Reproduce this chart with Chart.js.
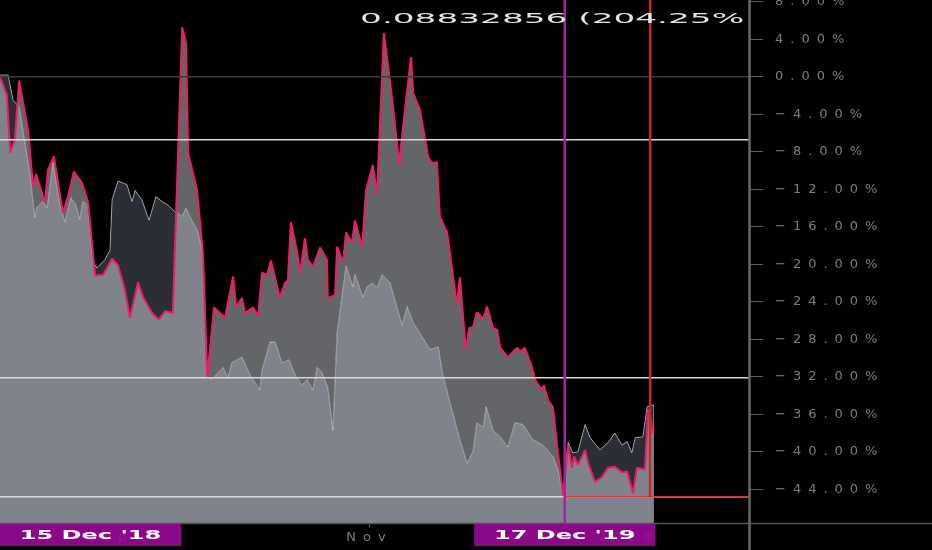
<!DOCTYPE html>
<html lang="en">
<head>
    <meta charset="UTF-8">
    <title>Drawdown comparison</title>
    <style>
        body {
            margin: 0;
            padding: 0;
            background-color: #000;
        }

        .chart-container {
            position: relative;
            width: 932px;
            height: 550px;
        }
    </style>
</head>
<body>
    <div class="chart-container">
        <canvas id="ddChart"></canvas>
    </div>

    <script src="https://cdn.jsdelivr.net/npm/chart.js"></script>
    <script>
        // x = days counted from 6 Aug 2019 (left edge of the window), y = % change
        const pinkDays = [
            0, 1.6, 2.4, 3.5, 4.5, 6.6, 7.8, 8.5, 10.6, 11.3,
            12.7, 14.8, 16.0, 17.4, 19.3, 20.7, 22.4, 24.3, 26.4, 27.8,
            29.4, 30.6, 32.5, 33.7, 35.8, 37.4, 38.9, 40.7, 42.9, 43.8,
            44.3, 46.4, 47.8, 48.8, 50.4, 53.0, 54.9, 55.6, 57.0, 57.7,
            59.6, 60.8, 61.7, 62.9, 63.8, 65.9, 67.1, 67.8, 68.5, 69.9,
            70.7, 71.8, 72.5, 73.7, 75.4, 77.0, 77.2, 78.9, 79.4, 80.8,
            81.5, 82.9, 83.6, 85.3, 86.2, 87.8, 88.8, 90.4, 92.3, 94.0,
            95.9, 96.8, 97.3, 98.9, 100.8, 101.7, 102.9, 103.6, 105.3, 107.6,
            108.3, 109.7, 110.5, 111.4, 112.3, 113.8, 114.7, 116.1, 117.1, 117.8,
            119.6, 121.8, 122.5, 123.6, 125.3, 126.0, 127.6, 128.1, 129.1, 130.2,
            131.4, 132.6, 133.8, 134.7, 135.2, 136.1, 137.8, 138.5, 140.1, 141.8,
            143.2, 144.8, 146.5, 147.7, 149.1, 150.0, 151.9, 152.6, 153.1, 153.8
        ];
        const pinkValues = [
            0, -1.9, -8.1, -6.7, -0.4, -5.7, -11.7, -10.4, -13.4, -9.9,
            -8.5, -14.5, -12.8, -10.1, -11.3, -13.3, -21.2, -21.1, -19.4, -20.1,
            -22.7, -25.7, -21.9, -23.5, -25.2, -25.9, -25.0, -25.2, 5.3, 3.6,
            -8.1, -12.1, -18.8, -32.0, -24.6, -25.7, -21.3, -24.5, -23.6, -25.2,
            -24.6, -25.5, -20.9, -21.1, -19.6, -23.5, -22.0, -21.7, -15.5, -18.5,
            -20.9, -17.2, -19.5, -20.3, -18.2, -19.5, -23.6, -23.3, -18.1, -19.8,
            -16.6, -17.7, -15.3, -18.2, -12.1, -9.4, -12.6, 4.7, -2.1, -9.2,
            -1.4, 2.1, -1.7, -3.5, -8.5, -9.2, -9.1, -14.9, -16.6, -24.3,
            -21.4, -29.1, -26.8, -26.7, -25.1, -25.8, -24.5, -26.8, -27.0, -28.9,
            -29.9, -28.9, -29.3, -28.9, -31.0, -32.3, -33.4, -32.9, -34.5, -35.2,
            -40.1, -44.6, -39.3, -41.7, -40.5, -41.4, -39.8, -41.2, -43.2, -42.7,
            -41.7, -41.6, -42.2, -42.1, -44.4, -41.7, -41.9, -35.5, -36.1, -38.0
        ];

        const whiteDays = [
            0, 1.9, 3.1, 4.5, 7.1, 8.2, 8.7, 10.1, 11.1, 12.5,
            14.1, 15.3, 16.7, 17.9, 18.8, 19.5, 20.7, 21.9, 22.8, 24.7,
            25.9, 26.4, 27.8, 29.9, 31.1, 31.8, 33.4, 35.1, 36.7, 38.2,
            39.6, 40.7, 42.9, 43.8, 44.7, 46.4, 47.8, 48.8, 49.9, 51.3,
            52.5, 53.7, 54.6, 57.0, 58.9, 61.2, 61.7, 63.6, 64.8, 66.4,
            68.1, 69.5, 71.1, 72.3, 73.7, 74.7, 75.8, 77.2, 78.4, 79.4,
            81.5, 83.1, 83.6, 85.5, 86.4, 87.8, 88.8, 90.0, 91.8, 94.7,
            95.9, 97.3, 98.4, 101.3, 103.2, 104.3, 106.0, 108.3, 110.0, 111.4,
            112.3, 113.8, 114.5, 116.1, 117.8, 119.6, 121.3, 123.2, 125.5, 127.9,
            130.2, 131.4, 132.6, 133.8, 134.9, 136.1, 137.8, 139.0, 141.3, 143.2,
            144.8, 146.5, 147.7, 148.8, 149.6, 151.4, 152.4, 154.0
        ];
        const whiteValues = [
            0.2, 0.2, -2.5, -3.2, -10.5, -15.0, -13.9, -13.3, -14.0, -9.2,
            -13.7, -15.5, -12.9, -13.7, -15.2, -13.3, -13.7, -19.7, -20.4, -19.5,
            -18.5, -13.1, -11.1, -11.5, -13.3, -12.1, -13.1, -15.3, -12.8, -13.3,
            -13.7, -14.2, -14.9, -14.0, -14.9, -16.3, -18.8, -32.0, -32.3, -31.6,
            -31.0, -32.1, -30.5, -29.9, -31.8, -33.4, -31.3, -28.3, -28.3, -30.5,
            -30.2, -31.8, -32.9, -32.3, -33.4, -31.0, -31.5, -33.1, -37.7, -27.3,
            -20.2, -22.4, -21.1, -23.5, -22.4, -22.0, -22.5, -21.1, -21.9, -26.5,
            -24.5, -26.2, -27.0, -29.1, -28.8, -31.8, -34.8, -38.7, -41.2, -40.0,
            -36.9, -37.4, -35.2, -37.7, -38.4, -39.5, -36.9, -37.1, -38.7, -39.3,
            -40.5, -41.9, -44.6, -39.0, -40.1, -40.0, -37.1, -38.5, -39.8, -39.0,
            -38.0, -39.3, -38.9, -40.1, -38.5, -38.4, -35.2, -35.0
        ];

        const yTicks = [8, 4, 0, -4, -8, -12, -16, -20, -24, -28, -32, -36, -40, -44];
        const xTickDays = [26, 87, 148];
        const xTickLabels = ['Sep', 'Nov', '2020'];

        // drawings on the chart
        const levelLines = [-6.7, -32.1, -44.8];
        const rangeStartDay = -234;   // 15 Dec '18, off to the left
        const rangeEndDay = 133;      // 17 Dec '19
        const rangeLabels = ["15 Dec '18", "17 Dec '19"];
        const cursorDay = 153.1;
        const cursorLevel = -44.8;
        const headerText = '0.08832856 (204.25%';
        const headerDay = 84.8;
        const headerValue = 6.1;

        function fmtPct(v) {
            return (v < 0 ? '\u2212' : '') + Math.abs(v).toFixed(2) + '%';
        }

        function hLine(ctx, x1, x2, y, color, w) {
            ctx.strokeStyle = color;
            ctx.lineWidth = w;
            ctx.beginPath();
            ctx.moveTo(x1, y);
            ctx.lineTo(x2, y);
            ctx.stroke();
        }

        function vLine(ctx, x, y1, y2, color, w) {
            ctx.strokeStyle = color;
            ctx.lineWidth = w;
            ctx.beginPath();
            ctx.moveTo(x, y1);
            ctx.lineTo(x, y2);
            ctx.stroke();
        }

        // the screenshot is stretched sideways, so the texts are too
        function wideText(ctx, text, x, y, font, color, sx, align) {
            ctx.save();
            ctx.letterSpacing = '0px';
            ctx.font = font;
            ctx.fillStyle = color;
            ctx.textAlign = align;
            ctx.textBaseline = 'middle';
            ctx.translate(x, y);
            ctx.scale(sx, 1);
            ctx.fillText(text, 0, 0);
            ctx.restore();
        }

        const overlays = {
            id: 'overlays',
            beforeDraw(chart) {
                chart.ctx.letterSpacing = '7px';
            },
            afterDatasetsDraw(chart) {
                const { ctx, chartArea: a, scales: { x, y } } = chart;
                ctx.save();
                ctx.beginPath();
                ctx.rect(a.left, a.top, a.right - a.left, a.bottom - a.top);
                ctx.clip();

                hLine(ctx, a.left, a.right, y.getPixelForValue(0), '#3c3c3c', 1.5);
                levelLines.forEach(v => hLine(ctx, a.left, a.right, y.getPixelForValue(v), '#dadada', 1.5));

                const xEnd = x.getPixelForValue(rangeEndDay);
                const xCur = x.getPixelForValue(cursorDay);
                const yCur = y.getPixelForValue(cursorLevel);
                hLine(ctx, xEnd, a.right, yCur, '#d23a3a', 1.5);
                vLine(ctx, xEnd, a.top, a.bottom, '#a41fae', 2.5);
                vLine(ctx, xCur, a.top, yCur, '#c8262a', 2.5);

                wideText(ctx, headerText, x.getPixelForValue(headerDay), y.getPixelForValue(headerValue),
                    '14px "DejaVu Sans"', '#e6e6e6', 2.45, 'left');
                ctx.restore();
            },
            afterDraw(chart) {
                const { ctx, chartArea: a, scales: { x } } = chart;
                ctx.save();
                hLine(ctx, 0, chart.width, a.bottom + 0.5, '#555', 1.5);
                vLine(ctx, a.right + 0.5, 0, chart.height, '#666', 2.5);

                const boxW = 181, boxH = 22;
                [rangeStartDay, rangeEndDay].forEach((d, i) => {
                    const left = Math.max(a.left, x.getPixelForValue(d) - boxW / 2);
                    ctx.fillStyle = 'rgba(152, 10, 152, 0.9)';
                    ctx.fillRect(left, a.bottom + 1, boxW, boxH);
                    wideText(ctx, rangeLabels[i], left + boxW / 2, a.bottom + 1 + boxH / 2 + 1,
                        'bold 12px "DejaVu Sans"', '#ffffff', 2.0, 'center');
                });
                ctx.restore();
            }
        };

        const ctx = document.getElementById('ddChart').getContext('2d');
        const ddChart = new Chart(ctx, {
            type: 'line',
            data: {
                datasets: [
                    {
                        label: 'Pink',
                        data: pinkDays.map((d, i) => ({ x: d, y: pinkValues[i] })),
                        borderColor: '#e91e63',
                        borderWidth: 2,
                        borderJoinStyle: 'bevel',
                        pointRadius: 0,
                        tension: 0,
                        fill: { target: 1, above: '#646569', below: '#2b2e37' }
                    },
                    {
                        label: 'White',
                        data: whiteDays.map((d, i) => ({ x: d, y: whiteValues[i] })),
                        borderColor: 'rgba(255, 255, 255, 0.5)',
                        borderWidth: 1,
                        pointRadius: 0,
                        tension: 0,
                        fill: { target: 'start', above: '#80838b' }
                    }
                ]
            },
            options: {
                responsive: true,
                maintainAspectRatio: false,
                animation: false,
                layout: { padding: 0 },
                plugins: {
                    legend: { display: false },
                    tooltip: { enabled: false },
                    filler: { drawTime: 'beforeDatasetsDraw' }
                },
                scales: {
                    x: {
                        type: 'linear',
                        min: 0,
                        max: 176.4,
                        grid: { drawOnChartArea: false, tickLength: 4, color: '#6a6a6a' },
                        border: { display: false },
                        ticks: {
                            color: '#7c7c7c',
                            font: { family: 'DejaVu Sans', size: 13 },
                            padding: 3,
                            maxRotation: 0,
                            autoSkip: false,
                            callback: v => xTickLabels[xTickDays.indexOf(v)]
                        },
                        afterBuildTicks: s => { s.ticks = xTickDays.map(v => ({ value: v })); },
                        afterFit: s => { s.height = 27; s.paddingLeft = 0; s.paddingRight = 0; }
                    },
                    y: {
                        position: 'right',
                        min: -47.6,
                        max: 8.2,
                        grid: { drawOnChartArea: false, tickLength: 14, color: '#5c5c5c' },
                        border: { display: false },
                        ticks: {
                            color: '#7c7c7c',
                            font: { family: 'DejaVu Sans', size: 13 },
                            padding: 12,
                            callback: v => fmtPct(v)
                        },
                        afterBuildTicks: s => { s.ticks = yTicks.map(v => ({ value: v })); },
                        afterFit: s => { s.width = 183; s.paddingTop = 0; s.paddingBottom = 0; }
                    }
                }
            },
            plugins: [overlays]
        });
    </script>
</body>
</html>
